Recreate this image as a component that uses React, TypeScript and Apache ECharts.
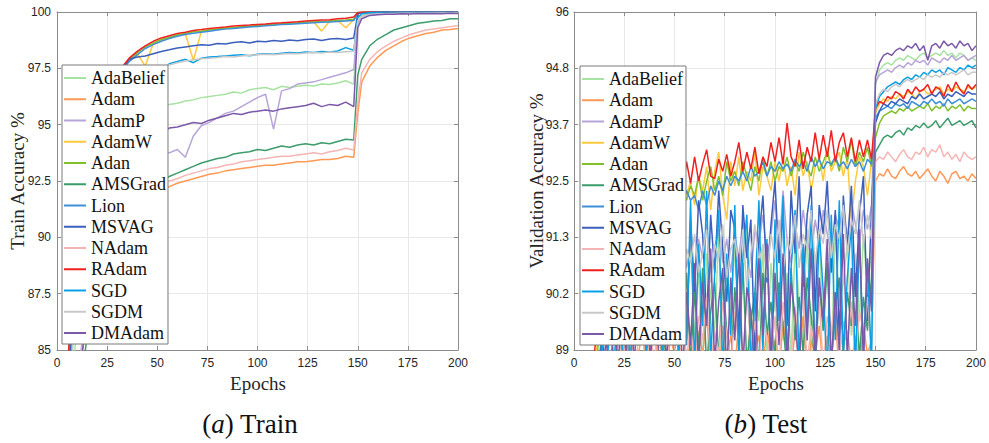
import React, { useEffect, useRef } from "react";
import * as echarts from "echarts";

const NAMES = ["AdaBelief", "Adam", "AdamP", "AdamW", "Adan", "AMSGrad", "Lion", "MSVAG", "NAdam", "RAdam", "SGD", "SGDM", "DMAdam"];
const COLORS = ["#a6e3a0", "#ff9955", "#b7a4d8", "#ffc83d", "#80c02c", "#3d9c6c", "#3f8fd8", "#3c5fbd", "#f5b5b5", "#f0201f", "#0aa0e6", "#c8c8c8", "#7b58a8"];

const TRAIN_Y_TICKS = [85, 87.5, 90, 92.5, 95, 97.5, 100];
const TEST_Y_TICKS = ["89", "90.2", "91.3", "92.5", "93.7", "94.8", "96"];

const TRAIN_EPOCHS = [0, 4, 8, 12, 16, 20, 24, 28, 32, 36, 40, 44, 48, 52, 56, 60, 64, 68, 72, 76, 80, 84, 88, 92, 96, 100, 104, 108, 112, 116, 120, 124, 128, 132, 136, 140, 144, 148,
  150, 152, 156, 160, 164, 168, 172, 176, 180, 184, 188, 192, 196, 200];

const TRAIN_ADABELIEF = [45, 75, 84, 88.5, 90.8, 92.3, 93.3, 94.0, 94.5, 94.9, 95.2, 95.45, 95.65, 95.8, 95.9, 95.95, 96.05, 96.1, 96.2, 96.25, 96.3, 96.35, 96.45, 96.4, 96.55, 96.6, 96.65, 96.55, 96.7, 96.65, 96.7, 96.75, 96.72, 96.8, 96.78, 96.85, 96.95, 96.8,
  99.6, 99.85, 99.93, 99.96, 99.97, 99.98, 99.98, 99.99, 99.99, 99.99, 100, 100, 100, 100];
const TRAIN_ADAM = [40, 70, 79.5, 84.5, 87, 88.5, 89.5, 90.2, 90.7, 91.1, 91.4, 91.65, 91.85, 92.05, 92.25, 92.4, 92.5, 92.6, 92.7, 92.8, 92.85, 92.95, 93.0, 93.05, 93.1, 93.15, 93.2, 93.2, 93.25, 93.3, 93.35, 93.35, 93.4, 93.45, 93.45, 93.5, 93.6, 93.55,
  95.5, 96.9, 97.6, 98.0, 98.3, 98.5, 98.7, 98.85, 98.95, 99.05, 99.1, 99.2, 99.22, 99.27];
const TRAIN_ADAMP = [40, 70, 80, 85, 87.8, 89.6, 90.8, 91.7, 92.4, 92.9, 93.3, 93.6, 93.8, 93.9, 93.75, 93.9, 93.55, 94.5, 94.95, 95.1, 95.3, 95.5, 95.6, 95.8, 96.0, 96.2, 96.35, 94.8, 96.5, 96.6, 96.8, 96.85, 96.9, 97.0, 97.1, 97.2, 97.3, 97.45,
  99.5, 99.8, 99.9, 99.95, 99.97, 99.98, 99.98, 99.99, 99.99, 100, 100, 100, 100, 100];
const TRAIN_ADAMW = [52, 81, 88, 91.2, 93.3, 94.8, 96.0, 96.8, 97.4, 97.85, 98.15, 97.6, 98.6, 98.75, 98.85, 98.95, 99.05, 97.85, 99.15, 99.2, 99.22, 99.28, 99.3, 99.35, 99.38, 99.4, 99.42, 99.45, 99.47, 99.5, 99.52, 99.55, 99.57, 99.15, 99.6, 99.62, 99.3, 99.66,
  99.95, 99.98, 99.99, 100, 100, 100, 100, 100, 100, 100, 100, 100, 100, 100];
const TRAIN_ADAN = [54, 82, 88.3, 91.4, 93.4, 94.9, 96.05, 96.85, 97.45, 97.9, 98.2, 98.45, 98.62, 98.78, 98.88, 98.98, 99.05, 99.12, 99.15, 99.2, 99.25, 99.28, 99.3, 99.34, 99.37, 99.4, 99.43, 99.45, 99.48, 99.5, 99.52, 99.54, 99.56, 99.58, 99.6, 99.62, 99.64, 99.68,
  99.96, 99.99, 100, 100, 100, 100, 100, 100, 100, 100, 100, 100, 100, 100];
const TRAIN_AMSGRAD = [38, 68, 78.5, 83.5, 86.3, 88.0, 89.2, 90.1, 90.8, 91.3, 91.7, 92.0, 92.3, 92.5, 92.7, 92.85, 93.0, 93.15, 93.3, 93.4, 93.5, 93.55, 93.7, 93.75, 93.8, 93.9, 93.85, 93.95, 94.05, 94.0, 94.1, 94.15, 94.1, 94.2, 94.15, 94.25, 94.35, 94.32,
  97.2, 97.9, 98.5, 98.8, 99.0, 99.2, 99.3, 99.4, 99.5, 99.55, 99.6, 99.62, 99.7, 99.7];
const TRAIN_LION = [50, 80, 87.6, 90.9, 93.0, 94.6, 95.8, 96.7, 97.35, 97.8, 98.1, 98.38, 98.55, 98.7, 98.82, 98.92, 99.0, 99.06, 99.1, 99.15, 99.2, 99.24, 99.27, 99.3, 99.33, 99.36, 99.39, 99.41, 99.44, 99.46, 99.48, 99.5, 99.52, 99.54, 99.56, 99.58, 99.6, 99.62,
  99.95, 99.98, 100, 100, 100, 100, 100, 100, 100, 100, 100, 100, 100, 100];
const TRAIN_MSVAG = [50, 80, 87.5, 90.8, 92.8, 94.3, 95.6, 96.6, 97.4, 97.9, 98.0, 98.05, 98.15, 98.25, 98.32, 98.4, 98.45, 98.5, 98.55, 98.52, 98.6, 98.58, 98.65, 98.68, 98.62, 98.7, 98.68, 98.74, 98.7, 98.76, 98.72, 98.78, 98.8, 98.74, 98.8, 98.82, 98.78, 98.85,
  99.92, 99.97, 99.99, 100, 100, 100, 100, 100, 100, 100, 100, 100, 100, 100];
const TRAIN_NADAM = [40, 70, 80, 84.8, 87.3, 88.8, 89.8, 90.5, 91.0, 91.4, 91.7, 91.95, 92.15, 92.35, 92.5, 92.6, 92.75, 92.85, 92.95, 93.05, 93.1, 93.2, 93.25, 93.35, 93.4, 93.45, 93.5, 93.55, 93.6, 93.6, 93.65, 93.7, 93.75, 93.7, 93.8, 93.85, 93.95, 93.88,
  96.0, 97.3, 97.9, 98.25, 98.5, 98.7, 98.85, 99.0, 99.1, 99.2, 99.25, 99.3, 99.35, 99.4];
const TRAIN_RADAM = [55, 82, 88.5, 91.5, 93.5, 95.0, 96.1, 96.9, 97.5, 97.95, 98.25, 98.5, 98.7, 98.85, 98.95, 99.05, 99.1, 99.18, 99.22, 99.27, 99.3, 99.33, 99.38, 99.4, 99.42, 99.45, 99.47, 99.5, 99.52, 99.55, 99.57, 99.6, 99.62, 99.64, 99.66, 99.7, 99.72, 99.78,
  99.98, 100, 100, 100, 100, 100, 100, 100, 100, 100, 100, 100, 100, 100];
const TRAIN_SGD = [48, 78, 86, 89.8, 92, 93.6, 94.8, 95.7, 96.4, 96.9, 97.2, 97.4, 97.55, 97.35, 97.7, 97.8, 97.9, 97.75, 97.95, 98.0, 98.02, 98.05, 98.08, 98.1, 98.06, 98.12, 98.15, 98.13, 98.17, 98.2, 98.18, 98.22, 98.2, 98.25, 98.23, 98.27, 98.42, 98.3,
  99.75, 99.92, 99.97, 99.99, 100, 100, 100, 100, 100, 100, 100, 100, 100, 100];
const TRAIN_SGDM = [47, 77, 85.5, 89.5, 91.8, 93.4, 94.6, 95.5, 96.2, 96.7, 97.05, 97.3, 97.45, 97.55, 97.65, 97.75, 97.82, 97.88, 97.92, 97.95, 97.98, 98.02, 98.0, 98.05, 98.08, 98.1, 98.12, 98.1, 98.14, 98.16, 98.15, 98.18, 98.2, 98.18, 98.22, 98.2, 98.24, 98.26,
  99.6, 99.8, 99.88, 99.9, 99.92, 99.93, 99.94, 99.94, 99.95, 99.95, 99.96, 99.96, 99.96, 99.97];
const TRAIN_DMADAM = [35, 65, 78, 84.5, 87.3, 89.3, 90.6, 91.6, 92.4, 93.0, 93.5, 93.95, 94.3, 94.6, 94.85, 94.9, 95.0, 95.1, 95.05, 95.2, 95.3, 95.4, 95.5, 95.45, 95.55, 95.6, 95.65, 95.6, 95.7, 95.75, 95.8, 95.85, 95.95, 95.8, 95.9, 95.85, 96.0, 95.8,
  99.3, 99.7, 99.85, 99.88, 99.9, 99.9, 99.92, 99.91, 99.93, 99.92, 99.93, 99.92, 99.94, 99.93];

const TEST_EPOCHS = [0, 2, 4, 6, 8, 10, 12, 14, 16, 18, 20, 22, 24, 26, 28, 30, 32, 34, 36, 38, 40, 42, 44, 46, 48, 50, 52, 54, 56, 58,
  60, 62, 64, 66, 68, 70, 72, 74, 76, 78, 80, 82, 84, 86, 88, 90, 92, 94, 96, 98, 100, 102, 104, 106, 108, 110, 112, 114, 116, 118,
  120, 122, 124, 126, 128, 130, 132, 134, 136, 138, 140, 142, 144, 146, 148, 150, 152, 154, 156, 158, 160, 162, 164, 166, 168, 170,
  172, 174, 176, 178, 180, 182, 184, 186, 188, 190, 192, 194, 196, 198, 200];

const TEST_ADABELIEF = [50, 67, 76, 81.5, 85, 87, 88.2, 89.0, 88.6, 89.4, 88.8, 89.8, 89.1, 90.2, 88.7, 90.5, 89.3, 90.8, 89.0, 90.4,
  89.6, 91.0, 88.9, 90.6, 89.9, 91.2, 88.8, 90.9, 89.5, 91.3, 89.2, 90.7, 88.6, 91.0, 90.1, 89.4, 91.4, 88.9, 90.6, 89.7,
  91.2, 89.0, 90.5, 91.5, 88.7, 90.3, 89.6, 91.1, 88.9, 90.8, 89.8, 91.4, 89.2, 90.6, 88.8, 91.2, 90.0, 89.5, 91.5, 88.9,
  90.7, 91.3, 89.4, 90.9, 88.7, 91.6, 89.9, 90.4, 91.2, 89.3, 91.0, 89.6, 91.4, 90.2, 91.1,
  94.5, 94.8, 94.9, 94.95, 94.9, 95.0, 95.05, 95.0, 95.1, 95.05, 95.0, 95.1, 95.15, 95.05, 95.1, 95.15, 95.1, 95.2, 95.1, 95.15, 95.05, 95.15, 95.1, 95.0, 95.05, 95.0];
const TEST_ADAM = [40, 58, 68, 76, 80.5, 83.5, 85.5, 86.9, 87.9, 88.5, 88.8, 88.4, 89.1, 88.6, 89.3, 88.5, 88.9, 89.4, 88.6, 89.2,
  88.5, 89.5, 88.8, 88.4, 89.3, 88.9, 88.5, 89.6, 88.7, 89.2, 88.5, 89.4, 88.9, 89.7, 88.6, 89.1, 88.4, 89.5, 88.8, 89.3,
  88.6, 89.6, 89.0, 88.5, 89.8, 88.9, 89.3, 88.6, 89.5, 88.8, 89.2, 88.5, 89.6, 89.0, 88.6, 89.4, 88.8, 89.7, 88.5, 89.2,
  88.9, 89.5, 88.6, 89.3, 88.8, 89.7, 88.5, 89.1, 89.4, 88.7, 89.3, 88.6, 89.5, 88.9, 89.2,
  92.5, 92.65, 92.6, 92.75, 92.6, 92.55, 92.7, 92.8, 92.65, 92.6, 92.7, 92.55, 92.65, 92.75, 92.6, 92.5, 92.7, 92.6, 92.45, 92.65, 92.7, 92.55, 92.6, 92.5, 92.65, 92.55];
const TEST_ADAMP = [45, 64, 74, 80, 84, 86.3, 87.6, 88.5, 89.2, 88.7, 89.6, 89.1, 90.0, 89.5, 90.3, 89.8, 90.5, 90.1, 90.7, 90.2,
  90.9, 90.4, 91.1, 90.6, 91.2, 90.5, 91.0, 91.4, 90.7, 91.2, 90.5, 91.3, 90.9, 91.6, 90.6, 91.1, 91.5, 90.8, 91.3, 90.6,
  91.4, 90.9, 91.7, 91.0, 90.5, 91.5, 91.2, 91.8, 90.9, 91.4, 92.1, 91.0, 92.3, 91.3, 90.8, 91.6, 91.1, 91.9, 91.3, 90.9,
  91.7, 91.2, 91.9, 91.4, 91.0, 91.8, 91.5, 92.0, 91.3, 92.1, 91.6, 91.2, 91.9, 91.5, 92.0,
  94.55, 94.7, 94.75, 94.8, 94.75, 94.85, 94.9, 94.85, 94.95, 94.9, 95.0, 94.95, 95.0, 94.9, 95.05, 95.0, 94.95, 95.05, 95.0, 95.1, 95.0, 95.05, 95.1, 95.0, 95.05, 95.1];
const TEST_ADAMW = [66, 78, 83, 85.8, 87.4, 88.5, 89.3, 89.8, 90.3, 90.6, 90.9, 91.2, 91.0, 91.4, 91.3, 91.6, 91.5, 91.8, 91.6, 92.0,
  91.8, 92.1, 91.9, 92.2, 92.0, 92.3, 91.9, 92.4, 92.2, 92.5, 92.0, 92.6, 92.3, 92.8, 91.9, 92.7, 93.1, 92.2, 91.7, 92.9,
  92.4, 93.0, 92.3, 92.7, 92.5, 93.1, 92.2, 92.8, 92.6, 92.3, 92.9, 92.5, 93.0, 92.4, 92.8, 92.2, 93.1, 92.6, 92.9, 92.3,
  92.8, 93.0, 92.5, 93.2, 92.7, 92.9, 93.1, 92.6, 93.0, 91.7, 92.5, 93.0, 92.8, 92.2, 92.9,
  93.9, 94.1, 94.2, 94.15, 94.25, 94.2, 94.3, 94.25, 94.35, 94.3, 94.2, 94.35, 94.4, 94.3, 94.35, 94.4, 94.45, 94.3, 94.4, 94.35, 94.45, 94.4, 94.35, 94.45, 94.4, 94.45];
const TEST_ADAN = [65, 77, 82.5, 85.5, 87.2, 88.3, 89.1, 89.7, 90.2, 90.5, 90.8, 91.1, 90.9, 91.3, 91.2, 91.5, 91.4, 91.7, 91.5, 91.9,
  91.7, 92.0, 91.8, 92.1, 91.9, 92.2, 92.0, 92.3, 92.1, 92.4, 92.2, 92.6, 92.1, 92.5, 92.8, 92.3, 92.6, 92.2, 92.9, 92.5,
  92.7, 92.4, 92.9, 92.6, 92.3, 92.8, 92.5, 93.0, 92.6, 92.9, 92.5, 92.8, 92.7, 93.0, 92.6, 92.9, 92.7, 93.1, 92.8, 92.6,
  93.0, 92.7, 92.9, 93.1, 92.8, 93.0, 92.7, 93.2, 92.9, 93.35, 92.8, 93.1, 92.9, 93.2, 92.8,
  93.4, 93.7, 93.85, 93.9, 93.95, 93.9, 94.0, 93.95, 94.05, 93.95, 94.0, 94.05, 94.0, 94.1, 93.95, 94.05, 94.0, 94.1, 93.95, 94.05, 94.0, 94.08, 93.95, 94.05, 94.0, 94.0];
const TEST_AMSGRAD = [45, 62, 72, 78.5, 82.5, 85, 86.6, 87.7, 88.5, 88.9, 88.6, 89.3, 88.8, 89.6, 88.5, 89.9, 89.1, 90.1, 88.7, 89.8,
  89.2, 90.3, 88.6, 89.7, 90.4, 88.9, 90.0, 89.3, 90.6, 88.7, 90.2, 89.0, 90.7, 88.6, 89.8, 90.4, 88.8, 90.5, 89.4, 88.6,
  90.3, 89.1, 90.8, 88.7, 89.6, 90.2, 88.5, 90.6, 89.3, 90.0, 88.8, 90.4, 89.5, 88.6, 90.7, 89.2, 90.1, 88.9, 90.5, 89.7,
  88.6, 90.3, 89.4, 90.8, 88.7, 89.9, 90.5, 88.9, 90.2, 89.5, 90.6, 88.8, 90.1, 89.4, 90.5,
  93.1, 93.25, 93.4, 93.45, 93.4, 93.5, 93.55, 93.45, 93.6, 93.55, 93.65, 93.6, 93.7, 93.6, 93.65, 93.75, 93.6, 93.7, 93.8, 93.65, 93.7, 93.75, 93.65, 93.7, 93.75, 93.6];
const TEST_LION = [60, 75, 81, 84.5, 86.5, 87.8, 88.7, 89.3, 89.8, 90.2, 90.5, 90.8, 91.0, 91.1, 91.3, 91.4, 91.5, 91.6, 91.7, 91.8,
  91.9, 91.8, 92.0, 91.9, 92.1, 92.0, 92.2, 92.1, 92.3, 92.1, 92.2, 91.9, 92.3, 92.0, 92.4, 92.2, 92.5, 92.3, 92.6, 92.4,
  92.6, 92.5, 92.7, 92.5, 92.8, 92.6, 92.7, 92.9, 92.6, 92.8, 92.7, 92.9, 92.75, 92.85, 92.7, 92.95, 92.8, 92.9, 92.7, 93.0,
  92.8, 92.95, 92.75, 92.9, 92.85, 93.0, 92.8, 92.9, 92.75, 92.95, 92.8, 92.9, 92.7, 92.95, 92.85,
  93.8, 93.95, 94.0, 94.05, 94.0, 94.1, 94.05, 94.1, 94.0, 94.15, 94.1, 94.05, 94.15, 94.1, 94.2, 94.1, 94.15, 94.05, 94.2, 94.1, 94.15, 94.2, 94.1, 94.15, 94.2, 94.15];
const TEST_MSVAG = [55, 70, 78, 83, 86, 87.5, 88.5, 89.2, 88.6, 89.8, 90.3, 89.2, 90.8, 91.2, 89.6, 91.5, 90.4, 91.8, 89.0, 91.6,
  90.5, 92.0, 91.2, 89.4, 91.9, 90.8, 92.2, 91.0, 89.2, 91.7, 90.2, 92.1, 91.4, 89.6, 91.8, 90.6, 92.3, 91.1, 90.0, 91.9,
  91.5, 89.3, 92.0, 90.9, 91.7, 88.8, 91.3, 92.2, 90.4, 91.6, 92.5, 90.8, 91.9, 89.5, 92.3, 91.0, 92.6, 90.3, 91.8, 92.4,
  89.8, 92.0, 91.4, 92.5, 90.6, 91.9, 89.2, 92.2, 91.1, 92.4, 90.1, 91.8, 92.6, 89.6, 91.9,
  93.7, 93.95, 94.1, 94.05, 94.15, 94.1, 94.2, 94.15, 94.1, 94.25, 94.2, 94.3, 94.2, 94.25, 94.3, 94.25, 94.35, 94.2, 94.3, 94.25, 94.35, 94.3, 94.25, 94.35, 94.3, 94.3];
const TEST_NADAM = [42, 60, 70, 77, 81.5, 84.3, 86, 87.2, 88.1, 88.6, 88.9, 88.5, 89.3, 88.7, 89.5, 88.6, 89.2, 89.7, 88.8, 89.4,
  88.7, 89.8, 89.0, 88.6, 89.6, 89.1, 88.5, 89.9, 88.8, 89.5, 88.6, 89.7, 89.2, 90.1, 88.7, 89.4, 88.9, 90.0, 89.3, 88.6,
  89.8, 89.1, 88.7, 90.2, 89.0, 89.6, 88.5, 89.9, 89.2, 88.8, 89.7, 88.6, 90.0, 89.3, 88.8, 89.9, 89.1, 90.3, 88.7, 89.5,
  89.0, 90.1, 88.6, 89.7, 89.3, 90.2, 88.8, 89.6, 89.1, 90.0, 88.7, 89.8, 89.4, 90.1, 89.0,
  92.9, 93.0, 92.95, 93.1, 93.0, 92.9, 93.05, 93.15, 93.0, 92.95, 93.1, 93.05, 93.2, 93.0, 93.15, 93.1, 93.25, 93.0, 93.1, 92.95, 93.05, 92.9, 93.1, 93.0, 92.95, 93.0];
const TEST_RADAM = [70, 80, 84, 86.5, 87.8, 88.9, 89.6, 90.1, 90.5, 90.9, 91.2, 91.0, 91.5, 91.3, 91.7, 91.6, 91.9, 91.7, 92.0, 91.8,
  92.1, 91.9, 92.3, 92.0, 92.4, 92.2, 92.5, 92.3, 92.9, 92.45, 93.0, 92.5, 92.85, 93.15, 92.6, 92.55, 92.95, 92.7, 93.05, 92.6,
  92.9, 93.3, 92.7, 93.1, 92.75, 93.2, 92.65, 93.0, 92.8, 93.3, 92.9, 93.4, 92.85, 93.7, 93.0, 92.8, 93.35, 92.75, 93.2, 92.9,
  93.5, 92.95, 93.45, 93.0, 93.55, 92.9, 93.3, 93.5, 93.0, 93.4, 92.9, 93.35, 93.0, 93.35, 92.95,
  94.0, 94.15, 94.1, 94.25, 94.2, 94.35, 94.3, 94.2, 94.4, 94.3, 94.45, 94.35, 94.4, 94.5, 94.3, 94.45, 94.4, 94.25, 94.5, 94.35, 94.55, 94.4, 94.3, 94.5, 94.4, 94.5];
const TEST_SGD = [50, 68, 76, 82, 85.5, 87.2, 88.2, 89.1, 88.4, 89.6, 88.7, 90.2, 89.0, 90.8, 88.5, 91.1, 89.4, 91.5, 88.6, 91.8,
  89.3, 92.0, 88.7, 91.4, 89.8, 92.2, 88.5, 91.7, 89.1, 92.1, 88.6, 91.2, 89.5, 92.3, 88.8, 90.6, 91.9, 88.5, 91.0, 89.3,
  92.0, 88.7, 90.9, 91.8, 88.6, 90.1, 92.1, 89.0, 91.3, 88.5, 91.7, 89.6, 92.2, 88.8, 90.7, 91.9, 88.6, 91.2, 89.4, 92.0,
  88.7, 91.5, 90.2, 88.5, 91.8, 89.2, 92.1, 88.9, 90.5, 91.6, 88.6, 91.3, 89.0, 90.8, 88.7,
  94.0, 94.25, 94.35, 94.45, 94.5, 94.55, 94.5, 94.6, 94.65, 94.6, 94.7, 94.65, 94.75, 94.7, 94.8, 94.75, 94.8, 94.7, 94.85, 94.8, 94.75, 94.85, 94.8, 94.9, 94.85, 94.9];
const TEST_SGDM = [48, 66, 75, 81, 84.5, 86.5, 87.8, 88.6, 89.1, 88.8, 89.5, 89.2, 89.9, 89.6, 90.2, 89.8, 90.4, 90.0, 90.6, 90.3,
  90.8, 90.4, 91.0, 90.6, 91.2, 90.7, 91.3, 90.5, 91.1, 90.8, 91.4, 90.6, 91.0, 91.5, 90.4, 91.2, 90.9, 91.6, 90.5, 91.1,
  91.3, 90.7, 91.5, 90.3, 91.0, 91.6, 90.8, 91.2, 90.5, 91.4, 90.9, 91.7, 90.6, 91.3, 91.0, 91.8, 90.7, 91.4, 91.1, 91.9,
  90.8, 91.5, 91.2, 91.9, 90.9, 91.6, 91.3, 92.0, 91.0, 91.7, 91.4, 92.1, 91.2, 91.8, 91.3,
  94.1, 94.3, 94.4, 94.35, 94.45, 94.5, 94.45, 94.55, 94.6, 94.55, 94.6, 94.65, 94.6, 94.7, 94.65, 94.7, 94.65, 94.75, 94.7, 94.75, 94.7, 94.75, 94.8, 94.7, 94.75, 94.75];
const TEST_DMADAM = [40, 60, 72, 79, 83, 85.8, 87.3, 88.4, 89.2, 88.5, 89.6, 88.7, 90.1, 88.9, 90.4, 88.6, 90.6, 89.2, 90.8, 88.7,
  90.3, 89.0, 90.9, 88.6, 90.5, 89.4, 91.0, 88.5, 90.2, 89.1, 90.8, 88.6, 90.4, 89.5, 91.1, 88.7, 90.0, 90.7, 88.5, 90.5,
  89.2, 91.0, 88.6, 90.3, 89.8, 88.5, 90.9, 89.3, 91.2, 88.7, 90.6, 89.1, 91.0, 88.6, 90.4, 89.7, 88.5, 90.8, 89.2, 91.1,
  88.7, 90.5, 89.6, 91.3, 88.6, 90.2, 89.0, 91.4, 88.8, 90.7, 89.5, 91.5, 88.7, 90.9, 89.8,
  94.65, 94.95, 95.1, 95.15, 95.1, 95.2, 95.25, 95.2, 95.3, 95.25, 95.35, 95.2, 95.3, 95.0, 95.3, 95.35, 95.25, 95.4, 95.3, 95.35, 95.25, 95.4, 95.3, 95.35, 95.2, 95.3];

const TRAIN_DATA = [TRAIN_ADABELIEF, TRAIN_ADAM, TRAIN_ADAMP, TRAIN_ADAMW, TRAIN_ADAN, TRAIN_AMSGRAD, TRAIN_LION, TRAIN_MSVAG, TRAIN_NADAM, TRAIN_RADAM, TRAIN_SGD, TRAIN_SGDM, TRAIN_DMADAM];
const TEST_DATA = [TEST_ADABELIEF, TEST_ADAM, TEST_ADAMP, TEST_ADAMW, TEST_ADAN, TEST_AMSGRAD, TEST_LION, TEST_MSVAG, TEST_NADAM, TEST_RADAM, TEST_SGD, TEST_SGDM, TEST_DMADAM];

// test panel's y axis: 89..96 split in 6 equal steps -> axis units 0..6
const TEST_MIN = 89;
const TEST_STEP = 7 / 6;
const toTest = (v: number) => (v - TEST_MIN) / TEST_STEP;

const AXIS_COLOR = "#8c8c8c";
const GRID_COLOR = "#e8e8e8";
const TEXT_COLOR = "#262626";
const SERIF = "Liberation Serif";
const SANS = "Liberation Sans";

function makeX(gridIndex: number, top: boolean) {
  return {
    gridIndex,
    type: "value",
    min: 0,
    max: 200,
    interval: 25,
    position: top ? "top" : "bottom",
    axisLine: { show: true, onZero: false, lineStyle: { color: AXIS_COLOR, width: 1 } },
    axisTick: { show: true, inside: true, length: 4, lineStyle: { color: AXIS_COLOR } },
    axisLabel: { show: !top, margin: 7, fontFamily: SANS, fontSize: 12, color: TEXT_COLOR },
    splitLine: { show: !top, lineStyle: { color: GRID_COLOR, width: 1 } },
  };
}

function makeY(gridIndex: number, right: boolean, isTest: boolean) {
  const base: any = {
    gridIndex,
    type: "value",
    position: right ? "right" : "left",
    axisLine: { show: true, onZero: false, lineStyle: { color: AXIS_COLOR, width: 1 } },
    axisTick: { show: true, inside: true, length: 4, lineStyle: { color: AXIS_COLOR } },
    splitLine: { show: !right, lineStyle: { color: GRID_COLOR, width: 1 } },
  };
  if (isTest) {
    base.min = 0;
    base.max = 6;
    base.interval = 1;
    base.axisLabel = {
      show: !right, margin: 5, fontFamily: SANS, fontSize: 12, color: TEXT_COLOR,
      formatter: (v: number) => TEST_Y_TICKS[Math.round(v)] ?? "",
    };
  } else {
    base.min = TRAIN_Y_TICKS[0];
    base.max = TRAIN_Y_TICKS[TRAIN_Y_TICKS.length - 1];
    base.interval = 2.5;
    base.axisLabel = { show: !right, margin: 6, fontFamily: SANS, fontSize: 12, color: TEXT_COLOR };
  }
  return base;
}

function makeLegend(left: number, top: number) {
  return {
    data: NAMES,
    orient: "vertical",
    left,
    top,
    backgroundColor: "#ffffff",
    borderColor: "#7a7a7a",
    borderWidth: 1,
    borderRadius: 0,
    padding: [4, 2, 2, 2],
    itemGap: 3.25,
    itemWidth: 22,
    itemHeight: 2,
    icon: "rect",
    selectedMode: false,
    textStyle: { fontFamily: SERIF, fontSize: 18, color: "#111111" },
  };
}

function axisTitle(text: string, x: number, y: number, vertical: boolean) {
  return {
    type: "text", x, y, rotation: vertical ? Math.PI / 2 : 0, silent: true,
    style: {
      text: "{t|" + text + "}",
      align: "center", verticalAlign: "middle",
      rich: { t: { fontFamily: SERIF, fontSize: 19, fill: TEXT_COLOR, color: TEXT_COLOR } },
    },
  };
}

function caption(x: number, letter: string, word: string) {
  return {
    type: "text", x, y: 424, silent: true,
    style: {
      text: "{n|(}{i|" + letter + "}{n|) " + word + "}",
      align: "center", verticalAlign: "middle",
      rich: {
        n: { fontFamily: SERIF, fontSize: 27, fill: "#111", color: "#111" },
        i: { fontFamily: SERIF, fontSize: 27, fontStyle: "italic", fill: "#111", color: "#111" },
      },
    },
  };
}

export default function App() {
  const ref = useRef<HTMLDivElement>(null);
  useEffect(() => {
    if (!ref.current) return;
    const chart = echarts.init(ref.current, undefined, { renderer: "svg" });
    const series: any[] = [];
    NAMES.forEach((name, k) => {
      series.push({
        type: "line", name, xAxisIndex: 0, yAxisIndex: 0,
        data: TRAIN_EPOCHS.map((e, i) => [e, TRAIN_DATA[k][i]]),
        symbol: "none", showSymbol: false, clip: true, silent: true,
        color: COLORS[k], lineStyle: { width: 1.5, color: COLORS[k] },
      });
    });
    NAMES.forEach((name, k) => {
      series.push({
        type: "line", name, xAxisIndex: 2, yAxisIndex: 2,
        data: TEST_EPOCHS.map((e, i) => [e, toTest(TEST_DATA[k][i])]),
        symbol: "none", showSymbol: false, clip: true, silent: true,
        color: COLORS[k], lineStyle: { width: 1.5, color: COLORS[k] },
      });
    });
    chart.setOption({
      animation: false,
      backgroundColor: "#ffffff",
      grid: [
        { left: 57, top: 12, width: 401, height: 338, show: false },
        { left: 574, top: 12, width: 403, height: 338, show: false },
      ],
      xAxis: [makeX(0, false), makeX(0, true), makeX(1, false), makeX(1, true)],
      yAxis: [makeY(0, false, false), makeY(0, true, false), makeY(1, false, true), makeY(1, true, true)],
      legend: [makeLegend(62, 65), makeLegend(580, 66)],
      series,
      graphic: [
        axisTitle("Train Accuracy %", 17, 181, true),
        axisTitle("Validation Accuracy %", 536, 181, true),
        axisTitle("Epochs", 258, 383, false),
        axisTitle("Epochs", 776, 383, false),
        caption(250, "a", "Train"),
        caption(766, "b", "Test"),
      ],
    });
    return () => chart.dispose();
  }, []);
  return <div ref={ref} style={{ position: "fixed", left: 0, top: 0, width: 989, height: 443, background: "#fff" }} />;
}
